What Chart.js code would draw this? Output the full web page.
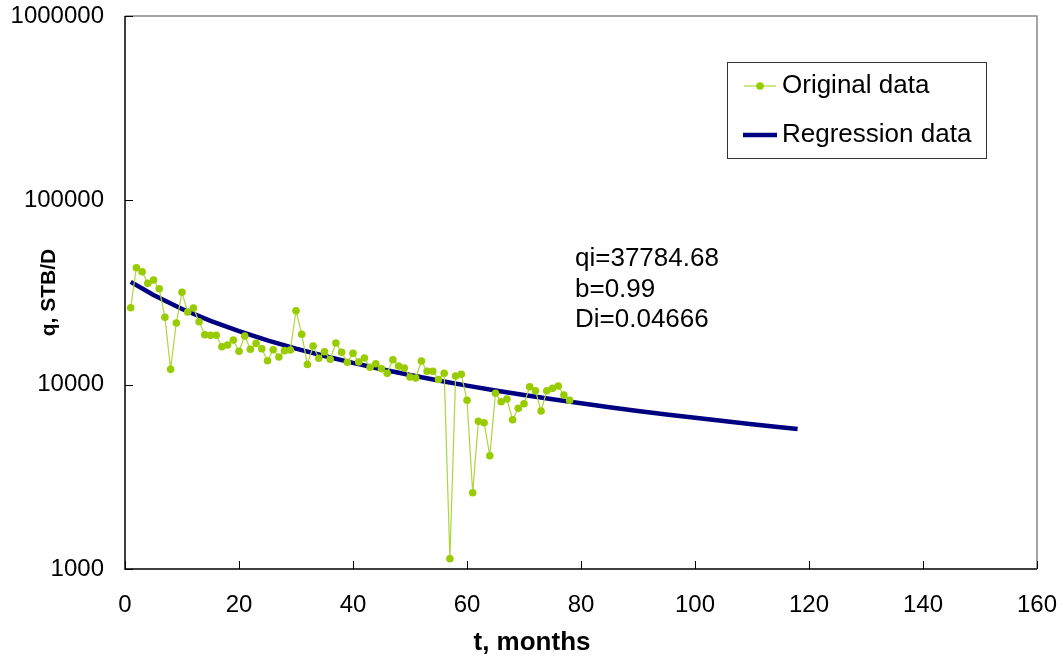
<!DOCTYPE html>
<html><head><meta charset="utf-8">
<script src="https://cdn.jsdelivr.net/npm/chart.js@4.4.1/dist/chart.umd.min.js"></script>
<style>html,body{margin:0;padding:0;background:#fff;overflow:hidden}#wrap{width:1063px;height:657px;position:relative}</style>
</head><body><div id="wrap"><canvas id="c" width="1063" height="657"></canvas></div>
<script>
const months = [1,2,3,4,5,6,7,8,9,10,11,12,13,14,15,16,17,18,19,20,21,22,23,24,25,26,27,28,29,30,31,32,33,34,35,36,37,38,39,40,41,42,43,44,45,46,47,48,49,50,51,52,53,54,55,56,57,58,59,60,61,62,63,64,65,66,67,68,69,70,71,72,73,74,75,76,77,78];
const originalRate = [26150,43100,41000,35460,36960,33160,23200,12110,21600,31700,
  24790,26050,21960,18670,18530,18530,16070,16420,17470,15170,
  18370,15550,16760,15670,13490,15470,14130,15290,15420,25190,
  18780,12870,16210,13920,15100,13730,16830,14980,13220,14800,
  13270,13950,12420,12990,12210,11520,13660,12620,12310,11000,
  10870,13440,11820,11820,10670,11540,1137,11140,11380,8225,
  2593,6326,6216,4118,8978,8084,8360,6454,7440,7882,
  9748,9273,7194,9273,9555,9833,8789,8225];
const regressionMonths = [1,5,10,15,20,25,30,35,40,45,50,55,60,65,70,75,80,85,90,95,100,105,110,115,118];
const regressionRate = [36100,30630,25747,22201,19510,17399,15698,14299,13128,12134,11279,10536,9884,9308,8795,8336,7922,7547,7205,6893,6607,6344,6100,5875,5748];
const xTickValues = [0,20,40,60,80,100,120,140,160];
const yTickValues = [1000,10000,100000,1000000];
const seriesNames = ['Original data','Regression data'];
const annotationLines = ['qi=37784.68','b=0.99','Di=0.04666'];
const xTitle = 't, months';
const yTitle = 'q, STB/D';

const FONT = '"Liberation Sans", Arial, sans-serif';
const GREEN_DOT = '#99CC00';
const GREEN_LINE = '#AED63C';
const NAVY = '#000080';

const framePlugin = {
  id: 'frame',
  afterDraw(chart) {
    const ctx = chart.ctx, a = chart.chartArea;
    const xs = chart.scales.x, ys = chart.scales.y;
    ctx.save();
    ctx.lineWidth = 1.5;
    ctx.strokeStyle = '#888';
    ctx.beginPath();
    ctx.moveTo(a.left, a.top); ctx.lineTo(a.right, a.top); ctx.lineTo(a.right, a.bottom);
    ctx.stroke();
    ctx.strokeStyle = '#000';
    ctx.beginPath();
    ctx.moveTo(a.left, a.top); ctx.lineTo(a.left, a.bottom); ctx.lineTo(a.right, a.bottom);
    ctx.stroke();
    ctx.lineWidth = 1;
    ctx.beginPath();
    yTickValues.forEach(v => { const p = Math.round(ys.getPixelForValue(v)) + 0.5; ctx.moveTo(a.left, p); ctx.lineTo(a.left + 8, p); });
    xTickValues.forEach(v => { const p = Math.round(xs.getPixelForValue(v)) + 0.5; ctx.moveTo(p, a.bottom); ctx.lineTo(p, a.bottom - 8); });
    ctx.stroke();
    // x title
    ctx.fillStyle = '#000';
    ctx.font = 'bold 26px ' + FONT;
    ctx.textAlign = 'center'; ctx.textBaseline = 'middle';
    ctx.fillText(xTitle, 532, 643);
    // legend
    const lx = 727, ly = 62, lw = 259, lh = 96;
    ctx.fillStyle = '#fff';
    ctx.fillRect(lx, ly, lw, lh);
    ctx.strokeStyle = '#333'; ctx.lineWidth = 1;
    ctx.strokeRect(lx + 0.5, ly + 0.5, lw, lh);
    const ds = chart.data.datasets;
    const rows = [86, 135];
    ctx.strokeStyle = GREEN_LINE; ctx.lineWidth = 1.2;
    ctx.beginPath(); ctx.moveTo(744, rows[0]); ctx.lineTo(776, rows[0]); ctx.stroke();
    ctx.fillStyle = GREEN_DOT; ctx.beginPath(); ctx.arc(760, rows[0], 3.8, 0, Math.PI * 2); ctx.fill();
    ctx.strokeStyle = NAVY; ctx.lineWidth = 4.5;
    ctx.beginPath(); ctx.moveTo(743, rows[1]); ctx.lineTo(777, rows[1]); ctx.stroke();
    ctx.font = '26px ' + FONT;
    ctx.textBaseline = 'middle'; ctx.textAlign = 'left'; ctx.fillStyle = '#000';
    ctx.fillText(ds[0].label, 782, rows[0]);
    ctx.fillText(ds[1].label, 782, rows[1]);
    const ay = [259, 290, 320];
    annotationLines.forEach((t, i) => ctx.fillText(t, 575, ay[i]));
    ctx.restore();
  }
};

new Chart(document.getElementById('c'), {
  type: 'scatter',
  data: {
    datasets: [
      {
        label: seriesNames[0],
        data: months.map((m, i) => ({ x: m, y: originalRate[i] })),
        showLine: true,
        borderColor: GREEN_LINE,
        borderWidth: 1.2,
        pointRadius: 3.8,
        pointBackgroundColor: GREEN_DOT,
        pointBorderWidth: 0,
        tension: 0
      },
      {
        label: seriesNames[1],
        data: regressionMonths.map((m, i) => ({ x: m, y: regressionRate[i] })),
        showLine: true,
        borderColor: NAVY,
        borderWidth: 4.5,
        pointRadius: 0,
        tension: 0,
        borderCapStyle: 'butt'
      }
    ]
  },
  options: {
    responsive: false,
    devicePixelRatio: 1,
    animation: false,
    layout: { padding: { top: 16, right: 26, bottom: 0, left: 0 } },
    plugins: { legend: { display: false }, tooltip: { enabled: false } },
    scales: {
      x: {
        type: 'linear', min: 0, max: 160,
        afterBuildTicks: s => { s.ticks = xTickValues.map(v => ({ value: v })); },
        afterFit: s => { s.height = 88; s.paddingLeft = 0; s.paddingRight = 0; },
        grid: { display: false, drawTicks: false },
        border: { display: false },
        ticks: { autoSkip: false, maxRotation: 0, padding: 22, color: '#000', font: { family: FONT, size: 24 }, callback: v => String(v) },
        title: { display: false, text: xTitle }
      },
      y: {
        type: 'logarithmic', min: 1000, max: 1000000,
        afterBuildTicks: s => { s.ticks = yTickValues.map(v => ({ value: v })); },
        afterFit: s => { s.width = 125; s.paddingTop = 0; s.paddingBottom = 0; },
        grid: { display: false, drawTicks: false },
        border: { display: false },
        ticks: { autoSkip: false, padding: 21, color: '#000', font: { family: FONT, size: 24 }, callback: v => String(v) },
        title: { display: true, text: yTitle, color: '#000', font: { family: FONT, size: 21, weight: 'bold' }, padding: { top: 37, bottom: 0 } }
      }
    }
  },
  plugins: [framePlugin]
});
</script>
</body></html>
